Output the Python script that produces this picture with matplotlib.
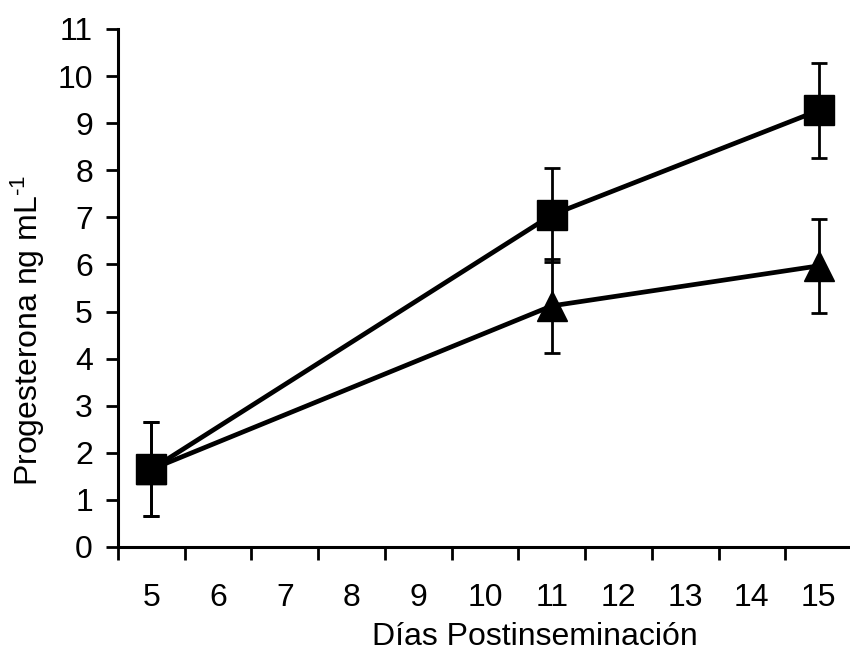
import matplotlib
matplotlib.use("Agg")
import matplotlib.pyplot as plt
import numpy as np

plt.rcParams['font.family'] = ['Liberation Sans', 'DejaVu Sans']
plt.rcParams['mathtext.fontset'] = 'custom'
plt.rcParams['mathtext.rm'] = 'Liberation Sans'
plt.rcParams['mathtext.it'] = 'Liberation Sans'

days = ['5', '6', '7', '8', '9', '10', '11', '12', '13', '14', '15']
sample_days = ['5', '11', '15']
square_vals = [1.65, 7.05, 9.27]
square_err = [1.0, 1.0, 1.0]
triangle_vals = [1.65, 5.12, 5.97]
triangle_err = [1.0, 1.0, 1.0]
y_ticks = list(range(0, 12))

fig = plt.figure(figsize=(8.5, 6.58), dpi=100)
W, H = 850, 658
ax = fig.add_axes([118 / W, (H - 547) / H, 734 / W, (547 - 29) / H])

pos = {d: i + 1 for i, d in enumerate(days)}
xs = [pos[d] for d in sample_days]

ax.errorbar(xs, triangle_vals, yerr=triangle_err, color='black', lw=3.4,
            marker='^', markersize=22, elinewidth=2, capsize=6, capthick=2,
            zorder=3)
ax.errorbar(xs, square_vals, yerr=square_err, color='black', lw=3.4,
            marker='s', markersize=21, elinewidth=2, capsize=6, capthick=2,
            zorder=4)

ax.set_xlim(0.5, len(days) + 0.5)
ax.set_ylim(0, 11)
ax.set_yticks(y_ticks)
ax.set_yticklabels([str(v) for v in y_ticks])

ax.set_xticks(np.arange(0.5, len(days) + 0.5, 1.0))
ax.set_xticklabels([])
ax.set_xticks(np.arange(1, len(days) + 1), minor=True)
ax.set_xticklabels(days, minor=True)
ax.tick_params(axis='x', which='major', direction='out', length=9, width=2)
ax.tick_params(axis='x', which='minor', length=0, pad=26, labelsize=23)
ax.tick_params(axis='y', direction='out', length=9, width=2, labelsize=23, pad=9)

for s in ['top', 'right']:
    ax.spines[s].set_visible(False)
for s in ['left', 'bottom']:
    ax.spines[s].set_linewidth(2.2)
ax.spines['bottom'].set_clip_on(False)

fig.text(535 / W, 1 - 637 / H, 'Días Postinseminación', fontsize=23,
         ha='center', va='center')
fig.text(28 / W, 1 - 330 / H, 'Progesterona ng mL$^{\\mathregular{\u20101}}$',
         fontsize=23, rotation=90, ha='center', va='center')

fig.savefig('out.png', dpi=100)
